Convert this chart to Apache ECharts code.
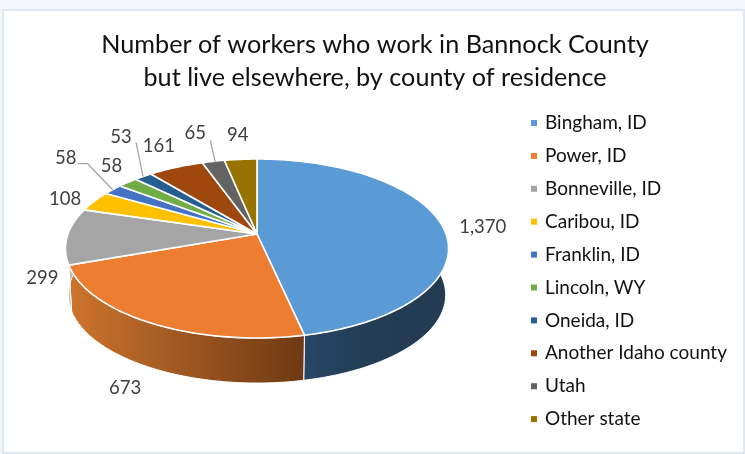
<!DOCTYPE html>
<html><head><meta charset="utf-8">
<style>html,body{margin:0;padding:0;background:#F3F6FB}#c{width:745px;height:454px}</style>
<script src="https://cdn.jsdelivr.net/npm/echarts@6/dist/echarts.min.js"></script>
</head><body><div id="c"></div>
<script>
const titleLines = ['Number of workers who work in Bannock County', 'but live elsewhere, by county of residence'];
const categories = ['Bingham, ID','Power, ID','Bonneville, ID','Caribou, ID','Franklin, ID','Lincoln, WY','Oneida, ID','Another Idaho county','Utah','Other state'];
const values = [1370,673,299,108,58,58,53,161,65,94];
const valueLabels = ['1,370','673','299','108','58','58','53','161','65','94'];
const colors = ['#5B9BD5','#ED7D31','#A5A5A5','#FFC000','#4472C4','#70AD47','#255E91','#9E480E','#636363','#997300'];
const labelNudge = [[41,2],[-25,65],[-25,42],[-29,-2],[-47,-32],[-16,-17],[-22,-40],[-17,-21],[-18,-28],[-3,-24]];
const leaders = {4:[[-35,-26],[-25,-26],[0,0]],6:[[-7,-34],[0,0]],8:[[-3,-21],[2,1]]};

// perspective pie projection
const CX=257, CY=234, W=189, H=87.15, A=0.162, DEPTH=46.6, SHRINK=0.985;
const total = values.reduce((a,b)=>a+b,0);
const starts=[]; values.reduce((a,v,i)=>{starts[i]=a;return a+v;},0);
const rad=f=>f*2*Math.PI;
function proj(f){const s=Math.sin(rad(f)),c=Math.cos(rad(f)),d=1+A*c;return [CX+W*s/d,CY-H*c/d];}
function low(p){return [CX+(p[0]-CX)*SHRINK,CY+(p[1]-CY)*SHRINK+DEPTH];}
function arc(i){const a=starts[i]/total,b=(starts[i]+values[i])/total,n=Math.max(4,Math.ceil((b-a)*360));const out=[];for(let k=0;k<=n;k++)out.push(proj(a+(b-a)*k/n));return out;}
function grad(x0,x1,stops){return new echarts.graphic.LinearGradient(x0,0,x1,0,stops.map((c,k)=>({offset:k/(stops.length-1),color:c})),true);}
const sideFill=[
  ()=>grad(305,449,['#274666','#243E58','#233B53','#233B53']),
  ()=>grad(70,305,['#CC742D','#6E3913']),
  ()=>grad(66,72,['#D8D8D8','#B5B5B5'])
];
const faceSeries = categories.map((name,i)=>({
  type:'custom', name, coordinateSystem:'none', z:5, data:[values[i]], itemStyle:{color:colors[i]},
  silent:true, animation:false,
  renderItem(){
    const pts=[[CX,CY],...arc(i)];
    return {type:'polygon',shape:{points:pts},style:{fill:colors[i],stroke:'#fff',lineWidth:1.6,lineJoin:'round'}};
  }
}));
const sideSeries={type:'custom',name:'side',coordinateSystem:'none',z:3,data:values,silent:true,animation:false,
  renderItem(params){
    const i=params.dataIndex;
    const top=arc(i),bot=top.map(low).reverse();
    return {type:'polygon',shape:{points:top.concat(bot)},style:{fill:sideFill[i]?sideFill[i]():'#888',stroke:'#fff',lineWidth:1}};
  }};
const labelSeries={type:'custom',name:'labels',coordinateSystem:'none',z:8,data:values,silent:true,animation:false,
  renderItem(params){
    const i=params.dataIndex;
    const m=proj((starts[i]+values[i]/2)/total);
    const kids=[{type:'text',style:{x:m[0]+labelNudge[i][0],y:m[1]+labelNudge[i][1],text:valueLabels[i],align:'center',verticalAlign:'middle',fontFamily:'Lato',fontSize:18.5,fill:'#404040'}}];
    if(leaders[i]) kids.push({type:'polyline',shape:{points:leaders[i].map(o=>[m[0]+o[0],m[1]+o[1]])},style:{stroke:'#A6A6A6',lineWidth:1.3,fill:null}});
    return {type:'group',children:kids};
  }};
const chart=echarts.init(document.getElementById('c'),null,{renderer:'canvas'});
chart.setOption({
  animation:false,
  backgroundColor:'#F3F6FB',
  graphic:[{type:'rect',z:-10,shape:{x:3,y:10,width:741,height:443},style:{fill:'#fff',stroke:'#DDE8F4',lineWidth:2}}],
  title:{text:titleLines.join('\n'),left:375,top:28,padding:0,textAlign:'center',textStyle:{fontFamily:'Lato',fontWeight:'normal',fontSize:25.2,lineHeight:33,color:'#111'}},
  legend:{orient:'vertical',left:531,top:113,padding:0,icon:'rect',itemWidth:6,itemHeight:6,itemGap:12.9,data:categories,selectedMode:false,
    textStyle:{fontFamily:'Lato',fontSize:19,lineHeight:20,color:'#111',padding:[0,0,0,3]}},
  series:[sideSeries,...faceSeries,labelSeries]
});
</script></body></html>
